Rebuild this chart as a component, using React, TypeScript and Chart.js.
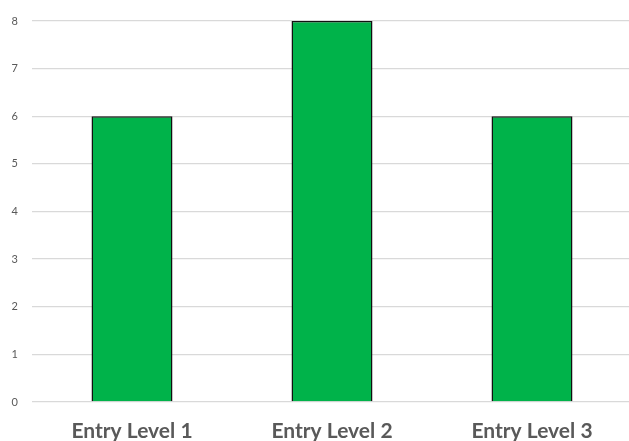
import React, { useEffect, useRef } from "react";
import { Chart, registerables } from "chart.js";

Chart.register(...registerables);

const categories: string[] = ["Entry Level 1", "Entry Level 2", "Entry Level 3"];
const values: number[] = [6, 8, 6];
const yMin = 0;
const yMax = 8;
const yStep = 1;

export default function App() {
  const ref = useRef<HTMLCanvasElement | null>(null);

  useEffect(() => {
    if (!ref.current) return;
    const chart = new Chart(ref.current, {
      type: "bar",
      data: {
        labels: categories,
        datasets: [
          {
            data: values,
            backgroundColor: "#00b34a",
            borderColor: "#111111",
            borderWidth: 1.5,
            categoryPercentage: 1,
            barPercentage: 0.405,
          },
        ],
      },
      options: {
        responsive: false,
        animation: false,
        devicePixelRatio: 1,
        layout: { padding: { top: 21, left: 0, right: 0, bottom: 0 } },
        plugins: {
          legend: { display: false },
          tooltip: { enabled: false },
          title: { display: false },
        },
        scales: {
          x: {
            grid: { display: false, drawTicks: false },
            border: { display: false },
            ticks: {
              color: "#595959",
              padding: 17,
              maxRotation: 0,
              font: { family: "Lato", size: 21, weight: "bold" },
            },
            afterFit: (scale: any) => {
              scale.height = 39;
            },
          },
          y: {
            min: yMin,
            max: yMax,
            grid: { color: "#d9d9d9", lineWidth: 1.3, drawTicks: false },
            border: { display: false },
            ticks: {
              stepSize: yStep,
              color: "#595959",
              padding: 14,
              font: { family: "Lato", size: 11 },
            },
            afterFit: (scale: any) => {
              scale.width = 32;
            },
          },
        },
      },
    });
    return () => chart.destroy();
  }, []);

  return (
    <div
      style={{
        position: "fixed",
        top: 0,
        left: 0,
        width: 629,
        height: 441,
        overflow: "hidden",
        background: "#ffffff",
      }}
    >
      <canvas ref={ref} width={632} height={441} style={{ width: 632, height: 441, display: "block" }} />
    </div>
  );
}
